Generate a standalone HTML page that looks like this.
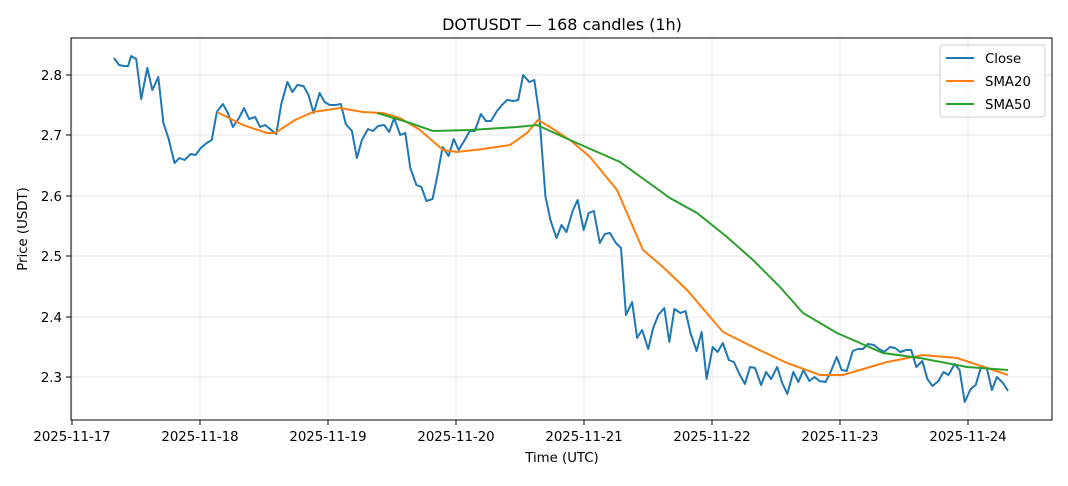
<!DOCTYPE html><html><head><meta charset="utf-8"><style>body{margin:0;background:#fff}svg{font-family:"DejaVu Sans","Liberation Sans",sans-serif}</style></head><body>
<svg width="1068" height="481" viewBox="0 0 1068 481">
<text x="562" y="30" font-size="16" text-anchor="middle" fill="#000">DOTUSDT — 168 candles (1h)</text>
<g stroke="#e6e6e6" stroke-width="1">
<line x1="72" y1="38" x2="72" y2="420"/><line x1="200" y1="38" x2="200" y2="420"/><line x1="328" y1="38" x2="328" y2="420"/><line x1="456" y1="38" x2="456" y2="420"/><line x1="584" y1="38" x2="584" y2="420"/><line x1="712" y1="38" x2="712" y2="420"/><line x1="840" y1="38" x2="840" y2="420"/><line x1="968" y1="38" x2="968" y2="420"/>
<line x1="71" y1="75" x2="1052" y2="75"/><line x1="71" y1="135" x2="1052" y2="135"/><line x1="71" y1="196" x2="1052" y2="196"/><line x1="71" y1="256" x2="1052" y2="256"/><line x1="71" y1="317" x2="1052" y2="317"/><line x1="71" y1="377" x2="1052" y2="377"/>
</g>
<rect x="71" y="38" width="981" height="382" fill="none" stroke="#000" stroke-width="1"/>
<g stroke="#000"><line x1="72" y1="420" x2="72" y2="425"/><line x1="200" y1="420" x2="200" y2="425"/><line x1="328" y1="420" x2="328" y2="425"/><line x1="456" y1="420" x2="456" y2="425"/><line x1="584" y1="420" x2="584" y2="425"/><line x1="712" y1="420" x2="712" y2="425"/><line x1="840" y1="420" x2="840" y2="425"/><line x1="968" y1="420" x2="968" y2="425"/>
<line x1="66" y1="75" x2="71" y2="75"/><line x1="66" y1="135" x2="71" y2="135"/><line x1="66" y1="196" x2="71" y2="196"/><line x1="66" y1="256" x2="71" y2="256"/><line x1="66" y1="317" x2="71" y2="317"/><line x1="66" y1="377" x2="71" y2="377"/></g>
<g font-size="13.3" fill="#000" text-anchor="middle"><text x="72" y="441">2025-11-17</text><text x="200" y="441">2025-11-18</text><text x="328" y="441">2025-11-19</text><text x="456" y="441">2025-11-20</text><text x="584" y="441">2025-11-21</text><text x="712" y="441">2025-11-22</text><text x="840" y="441">2025-11-23</text><text x="968" y="441">2025-11-24</text>
<text x="562" y="462">Time (UTC)</text></g>
<g font-size="13.3" fill="#000" text-anchor="end"><text x="62" y="80">2.8</text><text x="62" y="140">2.7</text><text x="62" y="201">2.6</text><text x="62" y="261">2.5</text><text x="62" y="322">2.4</text><text x="62" y="382">2.3</text></g>
<text transform="translate(27,229) rotate(-90)" font-size="13.3" text-anchor="middle">Price (USDT)</text>
<polyline id="close" fill="none" stroke="#1f77b4" stroke-width="2" stroke-linejoin="round"/>
<polyline fill="none" stroke="#ff7f0e" stroke-width="2" points="217,112 243,125 267,133 275,133 295,120 313,112 340,108 363,112 383,113 400,118 420,130 443,150 457,152 483,149 510,145 527,133 538,120 550,127 570,140 590,157 617,190 643,250 663,267 687,290 723,332 753,347 787,363 820,375 843,375 887,362 923,355 957,358 987,368 1008,375"/>
<polyline fill="none" stroke="#2ca02c" stroke-width="2" points="377,113 407,122 433,131 470,130 517,127 537,125 570,140 620,162 670,198 697,213 727,237 753,260 780,287 803,313 837,333 883,353 920,358 967,367 1008,370"/>
<rect x="940" y="45" width="105" height="72" fill="#fff" fill-opacity="0.8" stroke="#ccc" rx="3"/>
<line x1="946" y1="58" x2="974" y2="58" stroke="#1f77b4" stroke-width="2"/><line x1="946" y1="81" x2="974" y2="81" stroke="#ff7f0e" stroke-width="2"/><line x1="946" y1="104" x2="974" y2="104" stroke="#2ca02c" stroke-width="2"/>
<g font-size="13.3"><text x="985" y="63">Close</text><text x="985" y="86">SMA20</text><text x="985" y="109">SMA50</text></g>
</svg>
<script>
var p=[114,58,119,65,124,66,128,66,131,56,136,59,141,99,147,68,152,90,158,77,163,123,168,138,174,163,179,158,184,160,190,154,195,155,200,148,206,143,211,140,216,112,222,104,227,113,232,127,238,118,243,108,248,119,254,117,259,127,264,125,270,130,275,134,280,104,286,82,291,92,296,85,302,86,307,95,312,113,318,93,323,102,328,105,334,105,339,104,344,124,350,131,355,158,360,140,366,129,371,131,376,126,382,125,387,132,392,118,398,135,403,133,408,168,414,185,419,187,424,201,430,199,435,175,440,147,446,156,451,139,456,150,462,140,467,131,472,131,478,114,483,121,488,121,494,111,499,105,504,100,510,101,515,100,520,75,526,82,531,80,536,115,542,196,547,220,553,238,558,225,563,232,569,211,574,200,580,230,585,213,590,211,596,243,601,234,606,233,612,243,617,248,622,315,628,302,633,338,638,330,644,349,649,328,654,315,660,308,665,342,670,309,676,313,681,311,686,333,692,351,697,332,702,379,708,347,713,352,718,343,724,360,729,362,734,373,740,384,745,367,750,368,756,385,761,372,766,379,772,367,777,383,782,394,788,372,793,382,798,370,804,381,809,377,814,381,820,382,825,372,831,357,836,370,841,371,847,351,852,349,857,349,862,344,868,345,873,349,878,352,884,347,889,348,894,352,900,350,905,350,910,367,916,361,921,379,926,386,932,381,937,372,942,375,948,364,953,370,958,402,964,389,969,385,974,368,980,368,985,390,990,377,996,383,1001,391];
var s=[];for(var i=0;i<p.length;i+=2){var x=114+(p[i]-114)*(894/887);s.push(x.toFixed(1)+","+p[i+1]);}
document.getElementById("close").setAttribute("points",s.join(" "));
</script>
</body></html>
